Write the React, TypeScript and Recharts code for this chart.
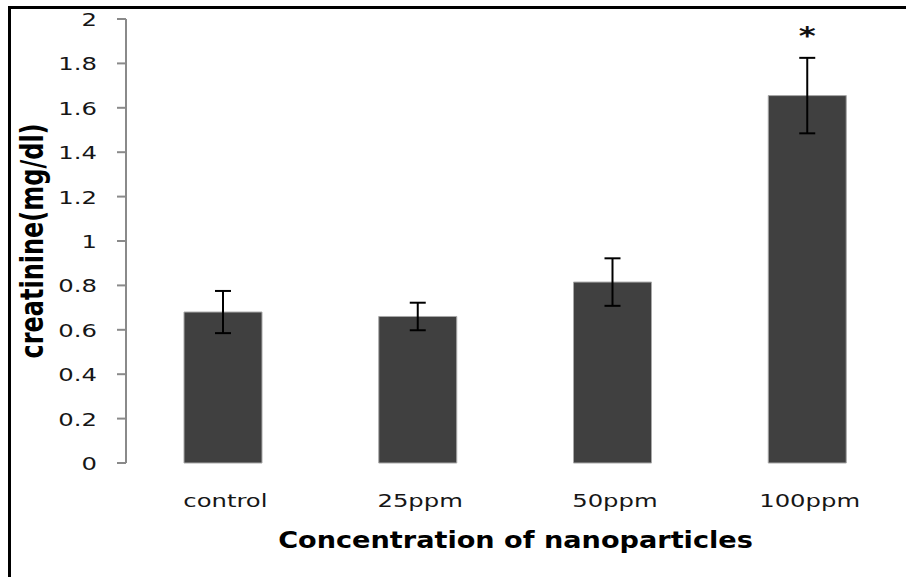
import React from 'react';
import { BarChart, Bar, XAxis, YAxis, ErrorBar, LabelList } from 'recharts';

const categories = ['control', '25ppm', '50ppm', '100ppm'];
const means = [0.68, 0.66, 0.815, 1.655];
const errors = [0.095, 0.062, 0.107, 0.17];
const significance = ['', '', '', '*'];
const yTicks = [0, 0.2, 0.4, 0.6, 0.8, 1, 1.2, 1.4, 1.6, 1.8, 2];
const boundaryTicks = [0, 1, 2, 3, 4];

const data = categories.map((name, i) => ({
  name,
  value: means[i],
  err: errors[i],
  mark: significance[i],
}));

const FONT = 'DejaVu Sans';
const TEXT = '#161616';
const AXIS = '#8a8a8a';

const YTick = (props: any) => {
  const { x, y, payload } = props;
  return (
    <g transform={`translate(${x},${y}) scale(1.35,1)`}>
      <text x={0} y={0} dy={7} textAnchor="end" fontFamily={FONT} fontSize={18} fill={TEXT}>
        {payload.value}
      </text>
    </g>
  );
};

const XTick = (props: any) => {
  const { x, y, payload } = props;
  return (
    <g transform={`translate(${x + 2},${y + 44}) scale(1.35,1)`}>
      <text x={0} y={0} textAnchor="middle" fontFamily={FONT} fontSize={18} fill={TEXT}>
        {payload.value}
      </text>
    </g>
  );
};

const XTitle = (props: any) => {
  const vb = props.viewBox;
  const cx = vb.x + vb.width / 2;
  return (
    <g transform={`translate(${cx},${vb.y + 85}) scale(1.18,1)`}>
      <text x={0} y={0} textAnchor="middle" fontFamily={FONT} fontWeight="bold" fontSize={23} fill="#000">
        Concentration of nanoparticles
      </text>
    </g>
  );
};

const YTitle = (props: any) => {
  const vb = props.viewBox;
  const cy = vb.y + vb.height / 2;
  return (
    <g transform={`translate(${vb.x + 43},${cy}) scale(1.3,1) rotate(-90)`}>
      <text x={0} y={0} textAnchor="middle" fontFamily={FONT} fontWeight="bold" fontSize={24} fill="#000">
        creatinine(mg/dl)
      </text>
    </g>
  );
};

const StarLabel = (props: any) => {
  const { x, y, width, value } = props;
  if (!value) return null;
  return (
    <g transform={`translate(${x + width / 2},${y - 52}) scale(1.35,1)`}>
      <text x={0} y={0} textAnchor="middle" fontFamily={FONT} fontWeight="bold" fontSize={24} fill="#111">
        {value}
      </text>
    </g>
  );
};

export default function App() {
  return (
    <div style={{ position: 'absolute', left: 0, top: 0, width: 906, height: 577, background: '#fff' }}>
      <div
        style={{
          position: 'absolute',
          left: 8,
          top: 6,
          width: 898,
          height: 571,
          borderLeft: '3px solid #000',
          borderTop: '3px solid #000',
          boxSizing: 'border-box',
        }}
      />
      <div style={{ position: 'absolute', left: 0, top: 0 }}>
        <BarChart width={906} height={577} data={data} margin={{ top: 19, right: 1, bottom: 0, left: 0 }}>
          <XAxis
            xAxisId="b"
            type="number"
            domain={[0, 4]}
            ticks={boundaryTicks}
            allowDataOverflow
            tick={false}
            tickSize={8}
            height={0}
            axisLine={{ stroke: AXIS, strokeWidth: 2 }}
            tickLine={{ stroke: AXIS, strokeWidth: 2 }}
          />
          <XAxis
            xAxisId="a"
            dataKey="name"
            height={114}
            axisLine={false}
            tickLine={false}
            tickSize={0}
            tickMargin={0}
            tick={<XTick />}
            interval={0}
            label={{ content: <XTitle /> }}
          />
          <YAxis
            width={126}
            domain={[0, 2]}
            ticks={yTicks}
            interval={0}
            tickSize={9}
            tickMargin={20}
            tick={<YTick />}
            axisLine={{ stroke: AXIS, strokeWidth: 2 }}
            tickLine={{ stroke: AXIS, strokeWidth: 2 }}
            label={{ content: <YTitle /> }}
          />
          <Bar
            xAxisId="a"
            dataKey="value"
            barSize={78}
            fill="#404040"
            stroke="#a8a8a8"
            strokeWidth={1}
            isAnimationActive={false}
          >
            <ErrorBar dataKey="err" width={8} stroke="#000" strokeWidth={2} direction="y" />
            <LabelList dataKey="mark" content={<StarLabel />} />
          </Bar>
        </BarChart>
      </div>
    </div>
  );
}
